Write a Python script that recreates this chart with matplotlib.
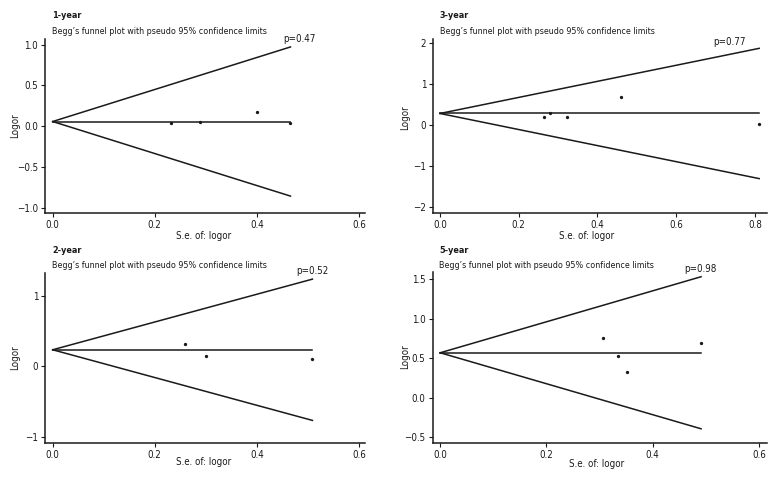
import os
import numpy as np
import matplotlib
matplotlib.use('Agg')
import matplotlib.pyplot as plt
from matplotlib import font_manager

# panel order: top-left, top-right, bottom-left, bottom-right
years = ['1-year', '3-year', '2-year', '5-year']
p_values = ['0.47', '0.77', '0.52', '0.98']
pooled = [0.057, 0.29, 0.236, 0.57]

se_1yr = [0.232, 0.288, 0.401, 0.466]
logor_1yr = [0.045, 0.049, 0.175, 0.04]
se_3yr = [0.265, 0.279, 0.323, 0.460, 0.811]
logor_3yr = [0.21, 0.30, 0.195, 0.69, 0.03]
se_2yr = [0.259, 0.30, 0.509]
logor_2yr = [0.315, 0.145, 0.109]
se_5yr = [0.307, 0.334, 0.352, 0.491]
logor_5yr = [0.752, 0.532, 0.33, 0.697]

xticks_short = [0.0, 0.2, 0.4, 0.6]
xticks_long = [0.0, 0.2, 0.4, 0.6, 0.8]
yticks_1yr = [-1.0, -0.5, 0.0, 0.5, 1.0]
yticks_3yr = [-2, -1, 0, 1, 2]
yticks_2yr = [-1, 0, 1]
yticks_5yr = [-0.5, 0.0, 0.5, 1.0, 1.5]

W, H = 780, 480
INK = '#1a1a1a'


def find_font(names):
    files = {os.path.basename(f): f for f in font_manager.findSystemFonts()}
    for n in names:
        if n in files:
            return files[n]
    return None


reg_file = find_font(['LiberationSansNarrow-Regular.ttf', 'DejaVuSansCondensed.ttf'])
bold_file = find_font(['LiberationSansNarrow-Bold.ttf', 'DejaVuSansCondensed-Bold.ttf'])
narrow = reg_file is not None and 'Narrow' in reg_file


def fp(size, bold=False):
    f = bold_file if bold else reg_file
    if f is not None:
        return font_manager.FontProperties(fname=f, size=size)
    return font_manager.FontProperties(family='DejaVu Sans', size=size,
                                       weight='bold' if bold else 'normal')


if narrow:
    sz_tick, sz_sub, sz_title, sz_lab = 8, 7.5, 7.2, 8
else:
    sz_tick, sz_sub, sz_title, sz_lab = 7, 6.4, 6.5, 7


def fx(px):
    return px / W


def fy(py):
    return 1 - py / H


def fmt(v, dec):
    s = f'{abs(v):.{dec}f}'
    return ('\u2212' + s) if v < 0 else s


panels = [
    dict(se=se_1yr, lo=logor_1yr, xt=xticks_short, yt=yticks_1yr, dec=1,
         box=(45, 39.3, 365, 213.3), xlim=(-0.015, 0.612), ylim=(-1.067, 1.064),
         title=(52, 16), sub=(52, 32), ylab=(15, 126), xlab=(204, 236),
         poff=(-7, 5)),
    dict(se=se_3yr, lo=logor_3yr, xt=xticks_long, yt=yticks_3yr, dec=0,
         box=(433.3, 39.3, 766.7, 213.3), xlim=(-0.017, 0.83), ylim=(-2.146, 2.1),
         title=(440, 16), sub=(440, 32), ylab=(405, 117.5), xlab=(587, 236),
         poff=(-46, 3)),
    dict(se=se_2yr, lo=logor_2yr, xt=xticks_short, yt=yticks_2yr, dec=0,
         box=(45, 273.3, 365, 443.3), xlim=(-0.015, 0.612), ylim=(-1.085, 1.316),
         title=(52, 250), sub=(52, 265.7), ylab=(15, 357.5), xlab=(204, 462),
         poff=(-16, 5)),
    dict(se=se_5yr, lo=logor_5yr, xt=xticks_short, yt=yticks_5yr, dec=1,
         box=(432.5, 271.7, 766.7, 443.3), xlim=(-0.0145, 0.6145), ylim=(-0.576, 1.596),
         title=(439, 250), sub=(439, 265.7), ylab=(405, 356.7), xlab=(597, 464),
         poff=(-17, 5)),
]

fig = plt.figure(figsize=(7.8, 4.8), dpi=100)

for i, p in enumerate(panels):
    x0, y0, x1, y1 = p['box']
    ax = fig.add_axes([fx(x0), fy(y1), (x1 - x0) / W, (y1 - y0) / H])
    theta = pooled[i]
    se_max = max(p['se'])
    s = np.array([0.0, se_max])
    ax.plot(s, theta + 1.96 * s, color=INK, lw=1.1)
    ax.plot(s, theta - 1.96 * s, color=INK, lw=1.1)
    ax.plot(s, [theta, theta], color=INK, lw=1.1)
    ax.plot(p['se'], p['lo'], 'o', color=INK, ms=2.4, mec='none')

    ax.set_xlim(*p['xlim'])
    ax.set_ylim(*p['ylim'])
    ax.set_xticks(p['xt'])
    ax.set_xticklabels([fmt(v, 1) for v in p['xt']])
    ax.set_yticks(p['yt'])
    ax.set_yticklabels([fmt(v, p['dec']) for v in p['yt']])
    for lbl in ax.get_xticklabels() + ax.get_yticklabels():
        lbl.set_fontproperties(fp(sz_tick))
    for side in ['top', 'right']:
        ax.spines[side].set_visible(False)
    for side in ['left', 'bottom']:
        ax.spines[side].set_linewidth(1.1)
        ax.spines[side].set_color(INK)
    ax.tick_params(direction='out', length=3, width=0.8, pad=2, colors=INK)

    ax.annotate('p=' + p_values[i], xy=(se_max, theta + 1.96 * se_max),
                xytext=p['poff'], textcoords='offset pixels',
                ha='left', va='baseline', fontproperties=fp(sz_lab), color=INK)

    tx, ty = p['title']
    fig.text(fx(tx), fy(ty), years[i], fontproperties=fp(sz_title, bold=True),
             ha='left', va='center', color=INK)
    sx, sy = p['sub']
    fig.text(fx(sx), fy(sy), "Begg\u2019s funnel plot with pseudo 95% confidence limits",
             fontproperties=fp(sz_sub), ha='left', va='center', color=INK)
    lx, ly = p['ylab']
    fig.text(fx(lx), fy(ly), 'Logor', rotation=90, fontproperties=fp(sz_lab),
             ha='center', va='center', color=INK)
    bx, by = p['xlab']
    fig.text(fx(bx), fy(by), 'S.e. of: logor', fontproperties=fp(sz_lab),
             ha='center', va='center', color=INK)

fig.savefig('out.png', dpi=100, facecolor='white')
